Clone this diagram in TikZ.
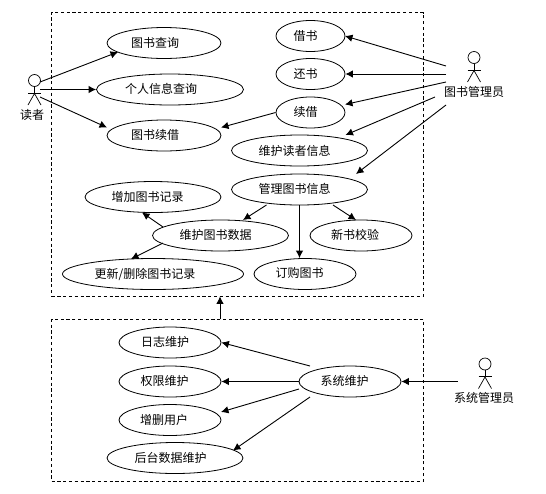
\documentclass[tikz,border=0pt]{standalone}
\usepackage{fontspec}
\setmainfont{Noto Sans CJK SC}
\usetikzlibrary{shapes.geometric,arrows.meta}
\tikzset{
  uc/.style={draw=black,ellipse,inner sep=0pt,line width=0.8pt},
  txt/.style={inner sep=0pt,font=\fontsize{12}{14}\selectfont,text=black},
  arr/.style={draw=black,line width=0.9pt,-{Latex[length=7.5pt,width=7.5pt]}},
  sysbox/.style={draw=black,line width=0.8pt,dash pattern=on 3.2pt off 2.6pt,rectangle,inner sep=0pt},
  stick/.style={draw=black,line width=0.7pt},
  head/.style={draw=black,circle,inner sep=0pt,minimum size=12pt,line width=0.7pt}
}
\newcommand{\usecase}[8]{%
  \node[uc,minimum width=#4pt,minimum height=#5pt] (#1) at (#2,#3) {};
  \node[txt] (#1-t) at (#6,#7) {#8};}
\newcommand{\actor}[5]{% name, x, head y, label y, label
  \node[head] (#1) at (#2,#3) {};
  \coordinate (#1-b) at (#2,#3+13);
  \draw[stick] (#1.south) -- (#1-b);
  \draw[stick] (#2-6.5,#3+12.5) -- (#2+6.5,#3+12.5);
  \draw[stick] (#2-6.5,#3+24.5) -- (#1-b) -- (#2+6.5,#3+24.5);
  \node[txt] (#1-l) at (#4) {#5};}
\begin{document}
\begin{tikzpicture}[x=1pt,y=-1pt]
\useasboundingbox (0,0) rectangle (546,493);
\node[sysbox,minimum width=372pt,minimum height=283.5pt] (box1) at (237.5,154.25) {};
\node[sysbox,minimum width=372pt,minimum height=161.5pt] (box2) at (237.5,400.25) {};
\usecase{q}{164}{43}{114}{31}{155}{42.5}{图书查询}
\usecase{p}{170}{89.5}{147}{31}{161}{89}{个人信息查询}
\usecase{r}{164}{135.5}{114}{31}{155}{135}{图书续借}
\usecase{b}{310.5}{36}{69}{31}{305.5}{36}{借书}
\usecase{h}{310.5}{74}{69}{31}{305.5}{74}{还书}
\usecase{x}{310.5}{112.5}{69}{31}{305.5}{112}{续借}
\usecase{w}{299.5}{150.5}{136}{31}{294.5}{151}{维护读者信息}
\usecase{g}{299.5}{189.5}{136}{31}{294.5}{189}{管理图书信息}
\usecase{z}{153}{197}{136}{31}{147.7}{197}{增加图书记录}
\usecase{d}{220.5}{235.5}{136}{31}{215.5}{235}{维护图书数据}
\usecase{u}{153}{274}{181}{31}{145}{274}{更新/删除图书记录}
\usecase{s}{361}{235.5}{102}{31}{355}{235}{新书校验}
\usecase{o}{305}{274}{102}{31}{299.5}{273}{订购图书}
\usecase{rz}{170}{342.5}{102}{31}{165}{342}{日志维护}
\usecase{qx}{170}{381.5}{102}{31}{164.5}{381}{权限维护}
\usecase{zs}{170}{420}{102}{31}{164}{420}{增删用户}
\usecase{ht}{175}{458}{136}{31}{170.5}{458}{后台数据维护}
\usecase{xt}{350}{381.5}{102}{31}{344.5}{381}{系统维护}
\actor{ra}{34.5}{80.5}{32,115}{读者}
\actor{la}{474}{57.5}{474,91.5}{图书管理员}
\actor{sa}{485}{364}{484,398}{系统管理员}
\coordinate (ra1) at (40,82);
\coordinate (ra2) at (40,89.5);
\coordinate (ra3) at (40,97);
\coordinate (la1) at (446,66);
\coordinate (la2) at (446,74);
\coordinate (la3) at (446,82);
\coordinate (la4) at (435,97);
\coordinate (la5) at (446,105);
\coordinate (sa1) at (457.5,381.5);
\draw[arr] (ra1) -- ([shift={(-46,9)}]q.center);
\draw[arr] (ra2) -- (p.west);
\draw[arr] (ra3) -- ([shift={(-57,-8)}]r.center);
\draw[arr] (la1) -- ([shift={(34.5,0)}]b.center);
\draw[arr] (la2) -- (h.east);
\draw[arr] (la3) -- ([shift={(34.5,-8)}]x.center);
\draw[arr] (la4) -- ([shift={(46,-15.5)}]w.center);
\draw[arr] (la5) -- ([shift={(56.5,-15.5)}]g.center);
\draw[arr] (x.west) -- ([shift={(57,-8)}]r.center);
\draw[arr] ([shift={(-33,15.5)}]g.center) -- ([shift={(22.5,-15.5)}]d.center);
\draw[arr] ([shift={(33.5,15.5)}]g.center) -- ([shift={(-5,-15.5)}]s.center);
\draw[arr] (g.south) -- (g.south |- o.north);
\draw[arr] ([shift={(-57.5,-8.5)}]d.center) -- ([shift={(-11,15.5)}]z.center);
\draw[arr] ([shift={(-57.5,7.5)}]d.center) -- ([shift={(-22,-15)}]u.center);
\draw[arr] ([shift={(-40,-15.5)}]xt.center) -- (rz.east);
\draw[arr] (xt.west) -- (qx.east);
\draw[arr] ([shift={(-51,7.5)}]xt.center) -- ([shift={(51,-8)}]zs.center);
\draw[arr] ([shift={(-40,15.5)}]xt.center) -- ([shift={(58,-7.5)}]ht.center);
\draw[arr] (sa1) -- (xt.east);
\draw[arr] ([xshift=-17.5pt]box2.north) -- ([xshift=-17.5pt]box1.south);
\end{tikzpicture}
\end{document}
